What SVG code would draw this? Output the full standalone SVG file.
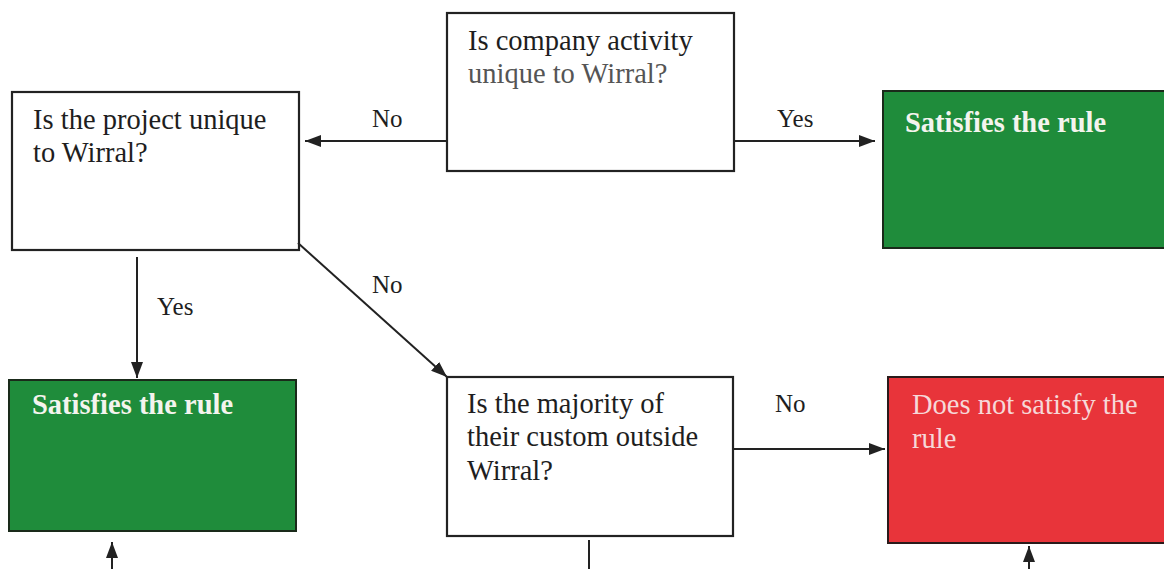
<svg xmlns="http://www.w3.org/2000/svg" width="1164" height="569" viewBox="0 0 1164 569">
  <defs>
    <style>
      .q { fill: #ffffff; stroke: #222222; stroke-width: 2.2; }
      .g { fill: #1f8c3b; stroke: #1a2a1a; stroke-width: 2; }
      .r { fill: #e8343a; stroke: #2a1a1a; stroke-width: 2; }
      .t { font-family: "Liberation Serif", "Times New Roman", serif; font-size: 28.5px; fill: #1e1e1e; }
      .tw { font-family: "Liberation Serif", "Times New Roman", serif; font-size: 28.5px; fill: #f4f4ee; font-weight: bold; }
      .tr { font-family: "Liberation Serif", "Times New Roman", serif; font-size: 28.5px; fill: #f6d8d8; }
      .lbl { font-family: "Liberation Serif", "Times New Roman", serif; font-size: 25px; fill: #1e1e1e; }
      .c { stroke: #222222; stroke-width: 2; fill: none; }
    </style>
    <marker id="ah" viewBox="0 0 16 12" refX="16" refY="6" markerWidth="16" markerHeight="12" markerUnits="userSpaceOnUse" orient="auto">
      <path d="M0,0 L16,6 L0,12 Z" fill="#222222"/>
    </marker>
  </defs>

  <g id="n-company">
    <rect class="q" x="447" y="13" width="287" height="158"/>
    <text class="t" x="468" y="50">Is company activity</text>
    <text class="t" x="468" y="83" fill="#555555" style="fill:#555555">unique to Wirral?</text>
  </g>

  <g id="n-project">
    <rect class="q" x="12" y="92" width="287" height="158"/>
    <text class="t" x="33" y="129">Is the project unique</text>
    <text class="t" x="33" y="162">to Wirral?</text>
  </g>

  <g id="n-satisfies-top">
    <rect class="g" x="883" y="91" width="290" height="157"/>
    <text class="tw" x="905" y="132">Satisfies the rule</text>
  </g>

  <g id="n-satisfies-left">
    <rect class="g" x="9" y="380" width="287" height="151"/>
    <text class="tw" x="32" y="414">Satisfies the rule</text>
  </g>

  <g id="n-majority">
    <rect class="q" x="447" y="377" width="286" height="159"/>
    <text class="t" x="467" y="413">Is the majority of</text>
    <text class="t" x="467" y="446">their custom outside</text>
    <text class="t" x="467" y="480">Wirral?</text>
  </g>

  <g id="n-not-satisfy">
    <rect class="r" x="888" y="377" width="290" height="166"/>
    <text class="tr" x="912" y="414">Does not satisfy the</text>
    <text class="tr" x="912" y="448">rule</text>
  </g>

  <g id="connectors">
    <line class="c" x1="447" y1="141" x2="305" y2="141" marker-end="url(#ah)"/>
    <line class="c" x1="734" y1="141" x2="875" y2="141" marker-end="url(#ah)"/>
    <line class="c" x1="137" y1="257" x2="137" y2="378" marker-end="url(#ah)"/>
    <line class="c" x1="298" y1="243" x2="447" y2="377" marker-end="url(#ah)"/>
    <line class="c" x1="733" y1="449" x2="885" y2="449" marker-end="url(#ah)"/>
    <line class="c" x1="112" y1="569" x2="112" y2="542" marker-end="url(#ah)"/>
    <line class="c" x1="589" y1="540" x2="589" y2="569"/>
    <line class="c" x1="1029" y1="569" x2="1029" y2="546" marker-end="url(#ah)"/>
    <text class="lbl" x="372" y="127">No</text>
    <text class="lbl" x="777" y="127">Yes</text>
    <text class="lbl" x="157" y="315">Yes</text>
    <text class="lbl" x="372" y="293">No</text>
    <text class="lbl" x="775" y="412">No</text>
  </g>
</svg>
